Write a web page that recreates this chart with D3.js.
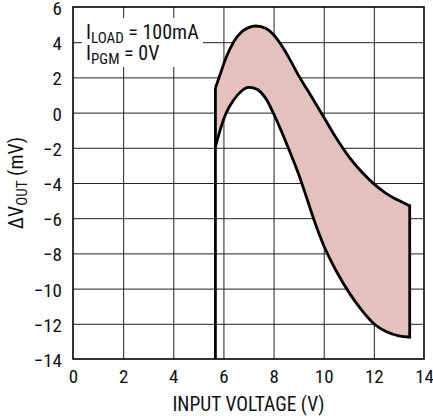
<!DOCTYPE html>
<html>
<head>
<meta charset="utf-8">
<script src="https://cdn.jsdelivr.net/npm/d3@7/dist/d3.min.js"></script>
<style>
  html, body { margin: 0; padding: 0; background: #fff; }
  svg { display: block; }
  text { font-family: "Liberation Sans Narrow", "Arial Narrow", "Roboto Condensed", sans-serif; fill: #111; }
</style>
</head>
<body>
<svg id="chart" width="433" height="416"></svg>
<script>
// Input voltage (V)
const inputVoltage = [5.68, 5.9, 6.1, 6.4, 6.7, 7.0, 7.3, 7.7, 8.0, 8.3, 8.6, 9.0, 9.3, 9.6, 10.0, 10.5, 11.0, 11.5, 12.0, 12.5, 13.0, 13.43];
// Upper envelope of ΔVOUT (mV)
const upperDeltaV = [1.4, 2.3, 3.1, 4.0, 4.55, 4.83, 4.92, 4.78, 4.42, 3.85, 3.15, 2.1, 1.4, 0.7, -0.25, -1.45, -2.5, -3.35, -4.05, -4.6, -5.0, -5.3];
// Lower envelope of ΔVOUT (mV)
const lowerDeltaV = [-1.95, -0.85, -0.05, 0.7, 1.2, 1.43, 1.35, 0.78, -0.05, -1.02, -2.05, -3.5, -4.75, -6.05, -7.55, -9.0, -10.2, -11.2, -12.0, -12.45, -12.68, -12.75];

const xTicks = [0, 2, 4, 6, 8, 10, 12, 14];
const yTicks = [6, 4, 2, 0, -2, -4, -6, -8, -10, -12, -14];

const svg = d3.select("#chart");
const m = { left: 73, right: 9, top: 7, bottom: 57 };
const W = 433, H = 416;
const iw = W - m.left - m.right, ih = H - m.top - m.bottom;

const x = d3.scaleLinear().domain([0, 14]).range([m.left, m.left + iw]);
const y = d3.scaleLinear().domain([-14, 6]).range([m.top + ih, m.top]);

const data = inputVoltage.map((v, i) => ({ v, hi: upperDeltaV[i], lo: lowerDeltaV[i] }));

// grid
svg.append("g").attr("transform", `translate(0,${m.top + ih})`)
  .call(d3.axisBottom(x).tickValues(xTicks.slice(1, -1)).tickSize(-ih).tickFormat(""))
  .call(g => g.select(".domain").remove())
  .call(g => g.selectAll("line").attr("stroke", "#222").attr("stroke-width", 1));
svg.append("g").attr("transform", `translate(${m.left},0)`)
  .call(d3.axisLeft(y).tickValues(yTicks.slice(1, -1)).tickSize(-iw).tickFormat(""))
  .call(g => g.select(".domain").remove())
  .call(g => g.selectAll("line").attr("stroke", "#222").attr("stroke-width", 1));

// annotation background
svg.append("rect").attr("x", 82).attr("y", 18).attr("width", 121).attr("height", 49).attr("fill", "#fff");

// shaded band
const curve = d3.curveMonotoneX;
svg.append("path").datum(data)
  .attr("d", d3.area().x(d => x(d.v)).y0(d => y(d.lo)).y1(d => y(d.hi)).curve(curve))
  .attr("fill", "#e4c1bc");

// curves
const lineStyle = p => p.attr("fill", "none").attr("stroke", "#000").attr("stroke-width", 2.8).attr("stroke-linejoin", "round");
svg.append("path").datum(data).attr("d", d3.line().x(d => x(d.v)).y(d => y(d.hi)).curve(curve)).call(lineStyle);
svg.append("path").datum(data).attr("d", d3.line().x(d => x(d.v)).y(d => y(d.lo)).curve(curve)).call(lineStyle);

// vertical edges
const first = data[0], last = data[data.length - 1];
svg.append("line").attr("x1", x(first.v)).attr("x2", x(first.v)).attr("y1", y(-14)).attr("y2", y(first.hi))
  .attr("stroke", "#000").attr("stroke-width", 2.8);
svg.append("line").attr("x1", x(last.v)).attr("x2", x(last.v)).attr("y1", y(last.lo)).attr("y2", y(last.hi))
  .attr("stroke", "#000").attr("stroke-width", 2.8).attr("stroke-linecap", "square");

// frame
svg.append("rect").attr("x", m.left).attr("y", m.top).attr("width", iw).attr("height", ih)
  .attr("fill", "none").attr("stroke", "#000").attr("stroke-width", 1.6);

// tick labels
svg.append("g").attr("transform", `translate(0,${m.top + ih})`)
  .call(d3.axisBottom(x).tickValues(xTicks).tickSize(0).tickPadding(11))
  .call(g => g.select(".domain").remove())
  .call(g => g.selectAll("text").attr("font-size", 19).attr("font-family", null));
svg.append("g").attr("transform", `translate(${m.left},1.5)`)
  .call(d3.axisLeft(y).tickValues(yTicks).tickSize(0).tickPadding(11))
  .call(g => g.select(".domain").remove())
  .call(g => g.selectAll("text").attr("font-size", 19).attr("font-family", null));

// axis titles
svg.append("text").attr("x", x(7)).attr("y", 411).attr("text-anchor", "middle").attr("font-size", 19.5)
  .text("INPUT VOLTAGE (V)");
const yt = svg.append("text").attr("transform", `translate(23,${y(-4)}) rotate(-90)`)
  .attr("text-anchor", "middle").attr("font-size", 20);
yt.append("tspan").text("ΔV");
yt.append("tspan").attr("font-size", 15).attr("dy", 4).text("OUT");
yt.append("tspan").attr("dy", -4).text(" (mV)");

// annotation
const a1 = svg.append("text").attr("x", 86).attr("y", 39).attr("font-size", 20);
a1.append("tspan").text("I");
a1.append("tspan").attr("font-size", 15).attr("dy", 3.5).text("LOAD");
a1.append("tspan").attr("dy", -3.5).text(" = 100mA");
const a2 = svg.append("text").attr("x", 86).attr("y", 60).attr("font-size", 20);
a2.append("tspan").text("I");
a2.append("tspan").attr("font-size", 15).attr("dy", 3.5).text("PGM");
a2.append("tspan").attr("dy", -3.5).text(" = 0V");
</script>
</body>
</html>
